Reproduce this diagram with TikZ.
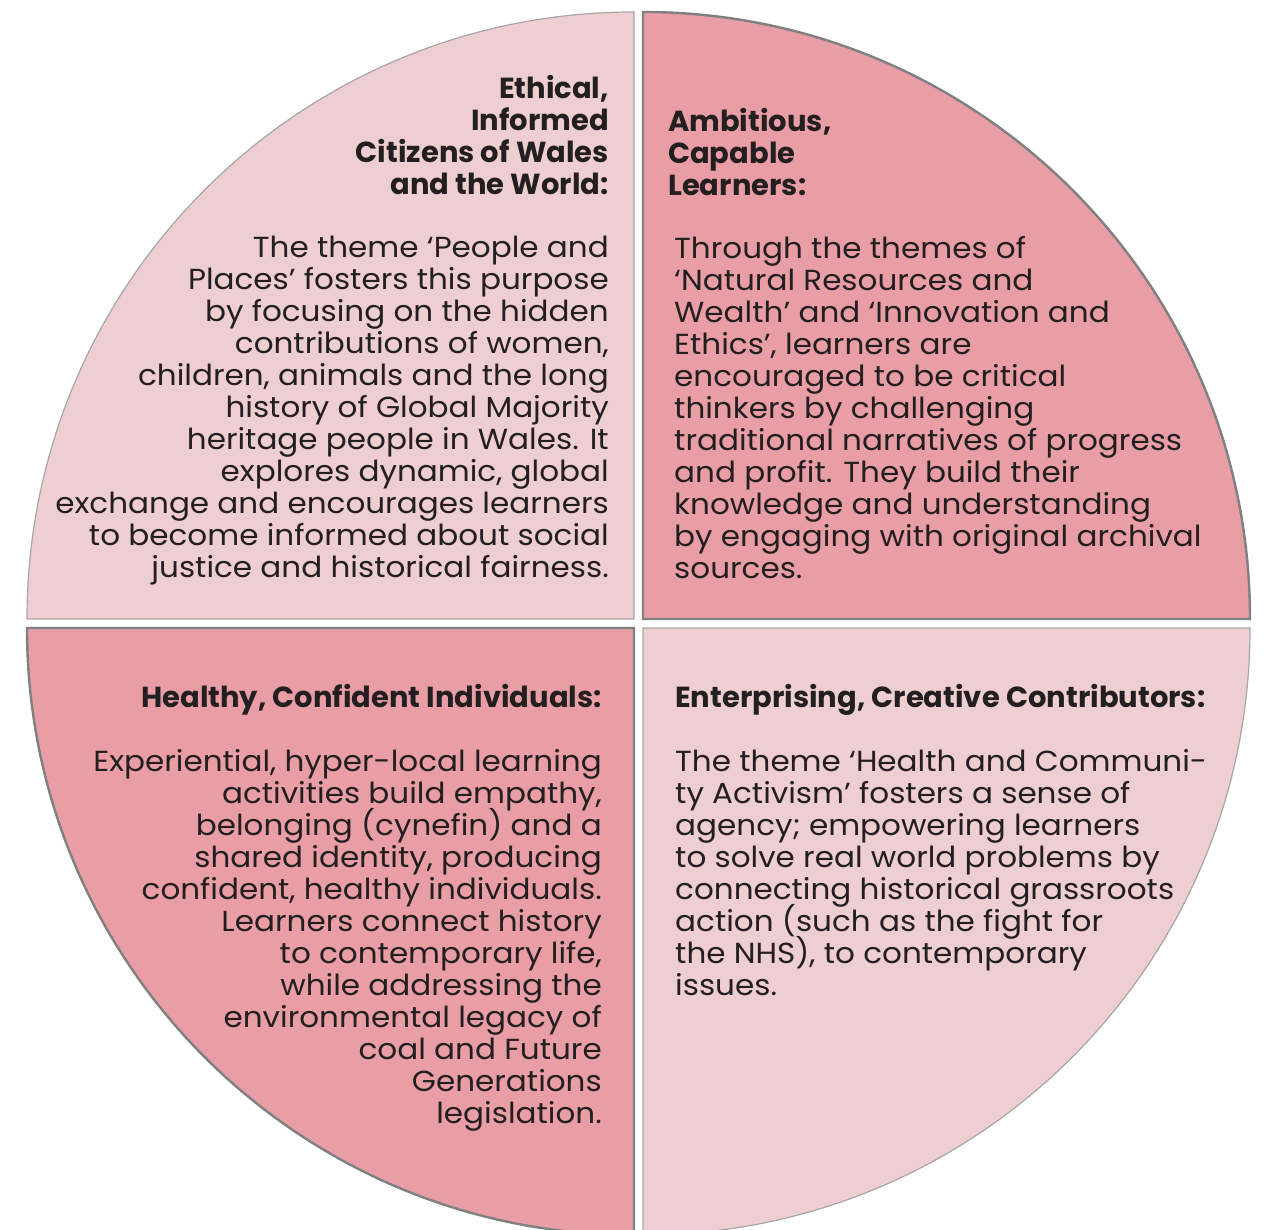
\documentclass[tikz,border=0pt]{standalone}
\usepackage{fontspec}
\setmainfont{Poppins}
\newfontfamily\widebody[FakeStretch=1.07]{Poppins}
\setlength{\lineskiplimit}{-100pt}
\definecolor{palepink}{RGB}{239,206,209}
\definecolor{rosepink}{RGB}{233,158,166}
\definecolor{inkgray}{RGB}{35,31,32}
\tikzset{
	lightquad/.style={fill=palepink, draw=gray!70, line width=1.2pt},
	darkquad/.style={fill=rosepink, draw=black!50, line width=2.4pt},
	headtext/.style={font=\bfseries\fontsize{29}{32}\selectfont, text=inkgray, inner sep=0pt},
	bodytext/.style={font=\widebody\fontsize{29}{32}\selectfont, text=inkgray, inner sep=0pt},
}
\begin{document}
\begin{tikzpicture}[x=1pt,y=1pt]
	\useasboundingbox (0,0) rectangle (1265,1230);
	\clip (0,0) rectangle (1265,1230);
	\newcommand{\rad}{607}
	
	% quadrants
	\draw[lightquad] (634,611) -- ++(-\rad,0) arc[start angle=180, end angle=90, radius=\rad] -- cycle;
	\draw[darkquad] (643,611) -- ++(0,\rad) arc[start angle=90, end angle=0, radius=\rad] -- cycle;
	\draw[darkquad] (634,602) -- ++(-\rad,0) arc[start angle=180, end angle=270, radius=\rad] -- cycle;
	\draw[lightquad] (643,602) -- ++(\rad,0) arc[start angle=0, end angle=-90, radius=\rad] -- cycle;
	
	% top left
	\node[headtext, anchor=north east, align=right] (ethicalhead) at (609,1155)
	{Ethical,\\Informed\\Citizens of Wales\\and the World:};
	\node[bodytext, anchor=north east, align=right] (ethicalbody) at (609,994)
	{The theme ‘People and\\Places’ fosters this purpose\\by focusing on the hidden\\contributions of women,\\children, animals and the long\\history of Global Majority\\heritage people in Wales. It\\explores dynamic, global\\exchange and encourages learners\\to become informed about social\\justice and historical fairness.};
	
	% top right
	\node[headtext, anchor=north west, align=left] (ambitioushead) at (668,1122)
	{Ambitious,\\Capable\\Learners:};
	\node[bodytext, anchor=north west, align=left] (ambitiousbody) at (674,994)
	{Through the themes of\\‘Natural Resources and\\Wealth’ and ‘Innovation and\\Ethics’, learners are\\encouraged to be critical\\thinkers by challenging\\traditional narratives of progress\\and profit. They build their\\knowledge and understanding\\by engaging with original archival\\sources.};
	
	% bottom left
	\node[headtext, anchor=north east, align=right] (healthyhead) at (602,546)
	{Healthy, Confident Individuals:};
	\node[bodytext, anchor=north east, align=right] (healthybody) at (602,481)
	{Experiential, hyper-local learning\\activities build empathy,\\belonging (cynefin) and a\\shared identity, producing\\confident, healthy individuals.\\Learners connect history\\to contemporary life,\\while addressing the\\environmental legacy of\\coal and Future\\Generations\\legislation.};
	
	% bottom right
	\node[headtext, anchor=north west, align=left] (enterprisinghead) at (675,546)
	{Enterprising, Creative Contributors:};
	\node[bodytext, anchor=north west, align=left] (enterprisingbody) at (675,481)
	{The theme ‘Health and Communi-\\ty Activism’ fosters a sense of\\agency; empowering learners\\to solve real world problems by\\connecting historical grassroots\\action (such as the fight for\\the NHS), to contemporary\\issues.};
\end{tikzpicture}
\end{document}
